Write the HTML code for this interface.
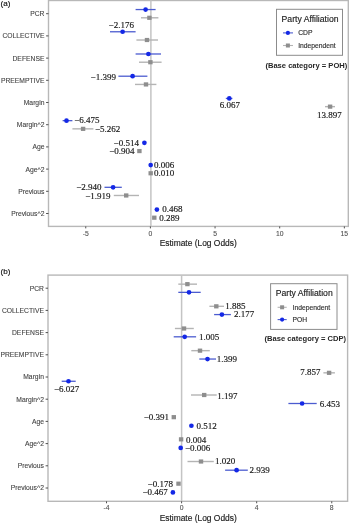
<!DOCTYPE html><html><head><meta charset="utf-8"><style>
html,body{margin:0;padding:0;background:#fff;}
body{width:350px;height:523px;overflow:hidden;}
svg{display:block;will-change:transform;filter:blur(0.3px);}
.ax{font-family:"Liberation Sans",sans-serif;font-size:6.75px;fill:#444444;stroke:#444444;stroke-width:0.1px;}
.xt{font-family:"Liberation Sans",sans-serif;font-size:6.8px;fill:#505050;stroke:#505050;stroke-width:0.1px;}
.xtitle{font-family:"Liberation Sans",sans-serif;font-size:8.42px;fill:#1a1a1a;stroke:#1a1a1a;stroke-width:0.15px;}
.tag{font-family:"Liberation Sans",sans-serif;font-size:8.1px;fill:#111;stroke:#111;stroke-width:0.15px;}
.dl{font-family:"Liberation Serif",serif;font-size:9px;fill:#161616;stroke:#161616;stroke-width:0.16px;}
.lt{font-family:"Liberation Sans",sans-serif;font-size:8.65px;fill:#222;stroke:#222;stroke-width:0.15px;}
.li{font-family:"Liberation Sans",sans-serif;font-size:6.75px;fill:#333;stroke:#333;stroke-width:0.15px;}
.base{font-family:"Liberation Sans",sans-serif;font-size:7.58px;font-weight:bold;fill:#262626;}
</style></head><body><svg width="350" height="523" viewBox="0 0 350 523">
<rect width="350" height="523" fill="#fff"/>
<rect x="48.5" y="0.5" width="299.8" height="225.9" fill="none" stroke="#b8b8b8" stroke-width="1.4"/>
<line x1="150.9" y1="0.5" x2="150.9" y2="226.4" stroke="#c4c4c4" stroke-width="1.5"/>
<line x1="46.1" y1="13.70" x2="48.5" y2="13.70" stroke="#505050" stroke-width="1"/>
<text x="44.4" y="16.10" text-anchor="end" class="ax">PCR</text>
<line x1="46.1" y1="35.90" x2="48.5" y2="35.90" stroke="#505050" stroke-width="1"/>
<text x="44.4" y="38.30" text-anchor="end" class="ax">COLLECTIVE</text>
<line x1="46.1" y1="58.10" x2="48.5" y2="58.10" stroke="#505050" stroke-width="1"/>
<text x="44.4" y="60.50" text-anchor="end" class="ax">DEFENSE</text>
<line x1="46.1" y1="80.30" x2="48.5" y2="80.30" stroke="#505050" stroke-width="1"/>
<text x="44.4" y="82.70" text-anchor="end" class="ax">PREEMPTIVE</text>
<line x1="46.1" y1="102.50" x2="48.5" y2="102.50" stroke="#505050" stroke-width="1"/>
<text x="44.4" y="104.90" text-anchor="end" class="ax">Margin</text>
<line x1="46.1" y1="124.70" x2="48.5" y2="124.70" stroke="#505050" stroke-width="1"/>
<text x="44.4" y="127.10" text-anchor="end" class="ax">Margin^2</text>
<line x1="46.1" y1="146.90" x2="48.5" y2="146.90" stroke="#505050" stroke-width="1"/>
<text x="44.4" y="149.30" text-anchor="end" class="ax">Age</text>
<line x1="46.1" y1="169.10" x2="48.5" y2="169.10" stroke="#505050" stroke-width="1"/>
<text x="44.4" y="171.50" text-anchor="end" class="ax">Age^2</text>
<line x1="46.1" y1="191.30" x2="48.5" y2="191.30" stroke="#505050" stroke-width="1"/>
<text x="44.4" y="193.70" text-anchor="end" class="ax">Previous</text>
<line x1="46.1" y1="213.50" x2="48.5" y2="213.50" stroke="#505050" stroke-width="1"/>
<text x="44.4" y="215.90" text-anchor="end" class="ax">Previous^2</text>
<line x1="85.75" y1="226.4" x2="85.75" y2="228.4" stroke="#505050" stroke-width="1"/>
<text x="85.75" y="235.5" text-anchor="middle" class="xt">-5</text>
<line x1="150.40" y1="226.4" x2="150.40" y2="228.4" stroke="#505050" stroke-width="1"/>
<text x="150.40" y="235.5" text-anchor="middle" class="xt">0</text>
<line x1="215.05" y1="226.4" x2="215.05" y2="228.4" stroke="#505050" stroke-width="1"/>
<text x="215.05" y="235.5" text-anchor="middle" class="xt">5</text>
<line x1="279.70" y1="226.4" x2="279.70" y2="228.4" stroke="#505050" stroke-width="1"/>
<text x="279.70" y="235.5" text-anchor="middle" class="xt">10</text>
<line x1="344.35" y1="226.4" x2="344.35" y2="228.4" stroke="#505050" stroke-width="1"/>
<text x="344.35" y="235.5" text-anchor="middle" class="xt">15</text>
<text x="198.20" y="246.0" text-anchor="middle" class="xtitle">Estimate (Log Odds)</text>
<text x="0.6" y="6.0" class="tag">(a)</text>
<line x1="141" y1="17.80" x2="158.4" y2="17.80" stroke="#b4b4b4" stroke-width="1.4"/>
<rect x="147.20" y="15.70" width="4.4" height="4.2" fill="#8e8e8e"/>
<line x1="136.4" y1="40.01" x2="158" y2="40.01" stroke="#b4b4b4" stroke-width="1.4"/>
<rect x="144.80" y="37.91" width="4.4" height="4.2" fill="#8e8e8e"/>
<line x1="139" y1="62.22" x2="161.6" y2="62.22" stroke="#b4b4b4" stroke-width="1.4"/>
<rect x="148.20" y="60.12" width="4.4" height="4.2" fill="#8e8e8e"/>
<line x1="135" y1="84.43" x2="156.4" y2="84.43" stroke="#b4b4b4" stroke-width="1.4"/>
<rect x="143.80" y="82.33" width="4.4" height="4.2" fill="#8e8e8e"/>
<line x1="325" y1="106.64" x2="335" y2="106.64" stroke="#b4b4b4" stroke-width="1.4"/>
<rect x="327.90" y="104.54" width="4.4" height="4.2" fill="#8e8e8e"/>
<line x1="72.4" y1="128.85" x2="93.4" y2="128.85" stroke="#b4b4b4" stroke-width="1.4"/>
<rect x="80.90" y="126.75" width="4.4" height="4.2" fill="#8e8e8e"/>
<rect x="137.20" y="148.96" width="4.4" height="4.2" fill="#8e8e8e"/>
<rect x="148.50" y="171.17" width="4.4" height="4.2" fill="#8e8e8e"/>
<line x1="113.8" y1="195.48" x2="139" y2="195.48" stroke="#b4b4b4" stroke-width="1.4"/>
<rect x="124.00" y="193.38" width="4.4" height="4.2" fill="#8e8e8e"/>
<rect x="152.10" y="215.59" width="4.4" height="4.2" fill="#8e8e8e"/>
<line x1="135.6" y1="9.55" x2="155.6" y2="9.55" stroke="#4c5cd0" stroke-width="1.3"/>
<circle cx="145.6" cy="9.55" r="2.35" fill="#1428e6"/>
<line x1="110" y1="31.77" x2="135.6" y2="31.77" stroke="#4c5cd0" stroke-width="1.3"/>
<circle cx="122.6" cy="31.77" r="2.35" fill="#1428e6"/>
<line x1="135.6" y1="53.99" x2="161" y2="53.99" stroke="#4c5cd0" stroke-width="1.3"/>
<circle cx="148.4" cy="53.99" r="2.35" fill="#1428e6"/>
<line x1="118.4" y1="76.21" x2="147.4" y2="76.21" stroke="#4c5cd0" stroke-width="1.3"/>
<circle cx="132.6" cy="76.21" r="2.35" fill="#1428e6"/>
<line x1="225.8" y1="98.43" x2="232.4" y2="98.43" stroke="#4c5cd0" stroke-width="1.3"/>
<circle cx="229.3" cy="98.43" r="2.35" fill="#1428e6"/>
<line x1="62.6" y1="120.65" x2="72.4" y2="120.65" stroke="#4c5cd0" stroke-width="1.3"/>
<circle cx="66.5" cy="120.65" r="2.35" fill="#1428e6"/>
<circle cx="144.4" cy="142.87" r="2.35" fill="#1428e6"/>
<circle cx="150.7" cy="165.09" r="2.35" fill="#1428e6"/>
<line x1="104.5" y1="187.31" x2="121.8" y2="187.31" stroke="#4c5cd0" stroke-width="1.3"/>
<circle cx="113.1" cy="187.31" r="2.35" fill="#1428e6"/>
<circle cx="156.9" cy="209.53" r="2.35" fill="#1428e6"/>
<text x="108.6" y="28.1" class="dl">−2.176</text>
<text x="90.6" y="80" class="dl">−1.399</text>
<text x="219.7" y="108.1" class="dl">6.067</text>
<text x="316.9" y="117.9" class="dl">13.897</text>
<text x="74.2" y="123.4" class="dl">−6.475</text>
<text x="94.9" y="132" class="dl">−5.262</text>
<text x="113.6" y="146" class="dl">−0.514</text>
<text x="109.2" y="153.5" class="dl">−0.904</text>
<text x="153.9" y="168.1" class="dl">0.006</text>
<text x="153.9" y="176.2" class="dl">0.010</text>
<text x="76.2" y="189.8" class="dl">−2.940</text>
<text x="85.3" y="198.5" class="dl">−1.919</text>
<text x="162.2" y="212.4" class="dl">0.468</text>
<text x="159.3" y="220.5" class="dl">0.289</text>
<rect x="276.5" y="9.3" width="66" height="46" fill="#fff" stroke="#8c8c8c" stroke-width="1"/>
<text x="281.6" y="22.1" class="lt">Party Affiliation</text>
<line x1="283" y1="32.9" x2="293" y2="32.9" stroke="#4c5cd0" stroke-width="1.1"/>
<circle cx="287.9" cy="32.9" r="2.1" fill="#1428e6"/>
<text x="298.2" y="35.3" class="li">CDP</text>
<line x1="283" y1="45.5" x2="293" y2="45.5" stroke="#b4b4b4" stroke-width="1.1"/>
<rect x="285.9" y="43.5" width="4" height="4" fill="#8e8e8e"/>
<text x="298.2" y="47.9" class="li">Independent</text>
<text x="265.4" y="68.1" class="base">(Base category = POH)</text>
<rect x="48" y="275.1" width="299.6" height="226.2" fill="none" stroke="#b8b8b8" stroke-width="1.4"/>
<line x1="181.6" y1="275.1" x2="181.6" y2="501.3" stroke="#c4c4c4" stroke-width="1.5"/>
<line x1="45.6" y1="288.20" x2="48" y2="288.20" stroke="#505050" stroke-width="1"/>
<text x="43.9" y="290.60" text-anchor="end" class="ax">PCR</text>
<line x1="45.6" y1="310.40" x2="48" y2="310.40" stroke="#505050" stroke-width="1"/>
<text x="43.9" y="312.80" text-anchor="end" class="ax">COLLECTIVE</text>
<line x1="45.6" y1="332.60" x2="48" y2="332.60" stroke="#505050" stroke-width="1"/>
<text x="43.9" y="335.00" text-anchor="end" class="ax">DEFENSE</text>
<line x1="45.6" y1="354.80" x2="48" y2="354.80" stroke="#505050" stroke-width="1"/>
<text x="43.9" y="357.20" text-anchor="end" class="ax">PREEMPTIVE</text>
<line x1="45.6" y1="377.00" x2="48" y2="377.00" stroke="#505050" stroke-width="1"/>
<text x="43.9" y="379.40" text-anchor="end" class="ax">Margin</text>
<line x1="45.6" y1="399.20" x2="48" y2="399.20" stroke="#505050" stroke-width="1"/>
<text x="43.9" y="401.60" text-anchor="end" class="ax">Margin^2</text>
<line x1="45.6" y1="421.40" x2="48" y2="421.40" stroke="#505050" stroke-width="1"/>
<text x="43.9" y="423.80" text-anchor="end" class="ax">Age</text>
<line x1="45.6" y1="443.60" x2="48" y2="443.60" stroke="#505050" stroke-width="1"/>
<text x="43.9" y="446.00" text-anchor="end" class="ax">Age^2</text>
<line x1="45.6" y1="465.80" x2="48" y2="465.80" stroke="#505050" stroke-width="1"/>
<text x="43.9" y="468.20" text-anchor="end" class="ax">Previous</text>
<line x1="45.6" y1="488.00" x2="48" y2="488.00" stroke="#505050" stroke-width="1"/>
<text x="43.9" y="490.40" text-anchor="end" class="ax">Previous^2</text>
<line x1="106.52" y1="501.3" x2="106.52" y2="503.3" stroke="#505050" stroke-width="1"/>
<text x="106.52" y="510.40000000000003" text-anchor="middle" class="xt">-4</text>
<line x1="181.60" y1="501.3" x2="181.60" y2="503.3" stroke="#505050" stroke-width="1"/>
<text x="181.60" y="510.40000000000003" text-anchor="middle" class="xt">0</text>
<line x1="256.68" y1="501.3" x2="256.68" y2="503.3" stroke="#505050" stroke-width="1"/>
<text x="256.68" y="510.40000000000003" text-anchor="middle" class="xt">4</text>
<line x1="331.76" y1="501.3" x2="331.76" y2="503.3" stroke="#505050" stroke-width="1"/>
<text x="331.76" y="510.40000000000003" text-anchor="middle" class="xt">8</text>
<text x="198.20" y="520.9" text-anchor="middle" class="xtitle">Estimate (Log Odds)</text>
<text x="0.6" y="274.3" class="tag">(b)</text>
<line x1="178.3" y1="284.15" x2="197" y2="284.15" stroke="#b4b4b4" stroke-width="1.4"/>
<rect x="185.20" y="282.05" width="4.4" height="4.2" fill="#8e8e8e"/>
<line x1="209.4" y1="306.32" x2="224" y2="306.32" stroke="#b4b4b4" stroke-width="1.4"/>
<rect x="214.10" y="304.22" width="4.4" height="4.2" fill="#8e8e8e"/>
<line x1="174.9" y1="328.49" x2="193.8" y2="328.49" stroke="#b4b4b4" stroke-width="1.4"/>
<rect x="181.80" y="326.39" width="4.4" height="4.2" fill="#8e8e8e"/>
<line x1="191.3" y1="350.66" x2="209.8" y2="350.66" stroke="#b4b4b4" stroke-width="1.4"/>
<rect x="197.80" y="348.56" width="4.4" height="4.2" fill="#8e8e8e"/>
<line x1="323.4" y1="372.83" x2="334.9" y2="372.83" stroke="#b4b4b4" stroke-width="1.4"/>
<rect x="326.90" y="370.73" width="4.4" height="4.2" fill="#8e8e8e"/>
<line x1="191" y1="395.00" x2="216.7" y2="395.00" stroke="#b4b4b4" stroke-width="1.4"/>
<rect x="202.00" y="392.90" width="4.4" height="4.2" fill="#8e8e8e"/>
<rect x="171.60" y="415.07" width="4.4" height="4.2" fill="#8e8e8e"/>
<rect x="178.90" y="437.24" width="4.4" height="4.2" fill="#8e8e8e"/>
<line x1="187.5" y1="461.51" x2="213.8" y2="461.51" stroke="#b4b4b4" stroke-width="1.4"/>
<rect x="198.80" y="459.41" width="4.4" height="4.2" fill="#8e8e8e"/>
<rect x="176.30" y="481.58" width="4.4" height="4.2" fill="#8e8e8e"/>
<line x1="178.3" y1="292.35" x2="200.7" y2="292.35" stroke="#4c5cd0" stroke-width="1.3"/>
<circle cx="189" cy="292.35" r="2.35" fill="#1428e6"/>
<line x1="214.1" y1="314.58" x2="230.9" y2="314.58" stroke="#4c5cd0" stroke-width="1.3"/>
<circle cx="221.9" cy="314.58" r="2.35" fill="#1428e6"/>
<line x1="173.7" y1="336.81" x2="196.1" y2="336.81" stroke="#4c5cd0" stroke-width="1.3"/>
<circle cx="184.7" cy="336.81" r="2.35" fill="#1428e6"/>
<line x1="199.3" y1="359.04" x2="216" y2="359.04" stroke="#4c5cd0" stroke-width="1.3"/>
<circle cx="207.5" cy="359.04" r="2.35" fill="#1428e6"/>
<line x1="61.7" y1="381.27" x2="75.7" y2="381.27" stroke="#4c5cd0" stroke-width="1.3"/>
<circle cx="68.5" cy="381.27" r="2.35" fill="#1428e6"/>
<line x1="288.4" y1="403.50" x2="316.7" y2="403.50" stroke="#4c5cd0" stroke-width="1.3"/>
<circle cx="302.1" cy="403.50" r="2.35" fill="#1428e6"/>
<circle cx="191.4" cy="425.73" r="2.35" fill="#1428e6"/>
<circle cx="180.7" cy="447.96" r="2.35" fill="#1428e6"/>
<line x1="225.1" y1="470.19" x2="247.8" y2="470.19" stroke="#4c5cd0" stroke-width="1.3"/>
<circle cx="236.6" cy="470.19" r="2.35" fill="#1428e6"/>
<circle cx="172.9" cy="492.42" r="2.35" fill="#1428e6"/>
<text x="225.3" y="309.1" class="dl">1.885</text>
<text x="233.9" y="317" class="dl">2.177</text>
<text x="198.9" y="339.6" class="dl">1.005</text>
<text x="216.7" y="362.2" class="dl">1.399</text>
<text x="300.2" y="375.4" class="dl">7.857</text>
<text x="53.9" y="392.4" class="dl">−6.027</text>
<text x="217.2" y="398.5" class="dl">1.197</text>
<text x="319.7" y="406.6" class="dl">6.453</text>
<text x="143.7" y="419.8" class="dl">−0.391</text>
<text x="196.6" y="428.9" class="dl">0.512</text>
<text x="186.1" y="442.6" class="dl">0.004</text>
<text x="185.0" y="450.9" class="dl">−0.006</text>
<text x="215.0" y="463.9" class="dl">1.020</text>
<text x="249.6" y="473.3" class="dl">2.939</text>
<text x="147.6" y="486.5" class="dl">−0.178</text>
<text x="142.5" y="495" class="dl">−0.467</text>
<rect x="270.6" y="283.7" width="66.4" height="45.7" fill="#fff" stroke="#8c8c8c" stroke-width="1"/>
<text x="275.8" y="296.3" class="lt">Party Affiliation</text>
<line x1="277.6" y1="307.3" x2="286.7" y2="307.3" stroke="#b4b4b4" stroke-width="1.1"/>
<rect x="280.1" y="305.3" width="4" height="4" fill="#8e8e8e"/>
<text x="292.6" y="309.7" class="li">Independent</text>
<line x1="277.6" y1="319.6" x2="286.7" y2="319.6" stroke="#4c5cd0" stroke-width="1.1"/>
<circle cx="282.1" cy="319.6" r="2.1" fill="#1428e6"/>
<text x="292.6" y="322" class="li">POH</text>
<text x="264.6" y="341.2" class="base">(Base category = CDP)</text>
</svg></body></html>
